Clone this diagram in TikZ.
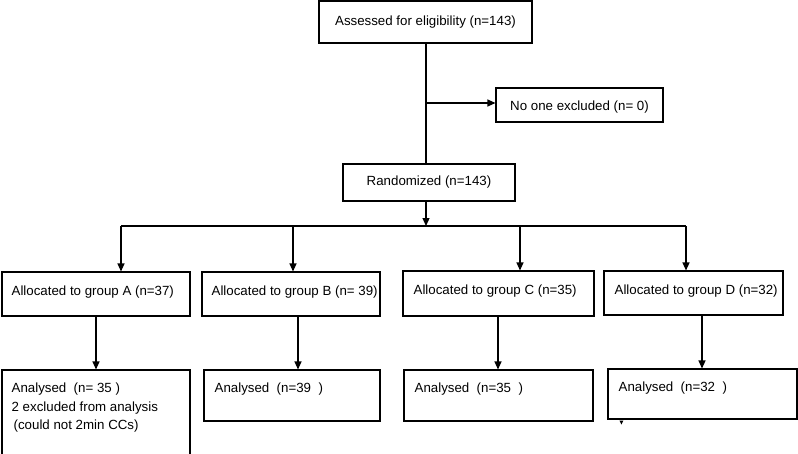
\documentclass[tikz,border=0pt]{standalone}
\usepackage{fontspec}
\setmainfont{Liberation Sans}
\usetikzlibrary{arrows.meta,calc}
\tikzset{
  box/.style={draw, line width=1.1pt, rectangle, inner sep=0pt},
  lbl/.style={inner sep=0pt, font=\fontsize{13.3}{18.8}\selectfont, align=left},
  arr/.style={line width=1.2pt, -{Triangle[length=8pt,width=7pt]}},
  ln/.style={line width=1.2pt}
}
\begin{document}
\begin{tikzpicture}[x=1pt,y=-1pt]
\useasboundingbox (0,0) rectangle (798,453);
% boxes
\node[box, minimum width=213pt, minimum height=42pt] (top) at (425.5,22) {};
\node[lbl] (topt) at (top.center) {Assessed for eligibility (n=143)};
\node[box, minimum width=167pt, minimum height=34pt] (excl) at (579.5,105) {};
\node[lbl] (exclt) at ($(excl.center)+(0,2)$) {No one excluded (n= 0)};
\node[box, minimum width=172pt, minimum height=37pt] (rand) at (429,182.5) {};
\node[lbl] (randt) at (rand.center) {Randomized (n=143)};

\node[box, minimum width=188pt, minimum height=44pt] (gA) at (96,294) {};
\node[box, minimum width=178pt, minimum height=44pt] (gB) at (291,294) {};
\node[box, minimum width=191pt, minimum height=45pt] (gC) at (498.5,293.5) {};
\node[box, minimum width=179pt, minimum height=44pt] (gD) at (693.5,293) {};
\node[lbl, anchor=west] (gAt) at ($(gA.west)+(10,-2)$) {Allocated to group A (n=37)};
\node[lbl, anchor=west] (gBt) at ($(gB.west)+(10,-2)$) {Allocated to group B (n= 39)};
\node[lbl, anchor=west] (gCt) at ($(gC.west)+(11,-2)$) {Allocated to group C (n=35)};
\node[lbl, anchor=west] (gDt) at ($(gD.west)+(11,-2)$) {Allocated to group D (n=32)};

\node[box, minimum width=188pt, minimum height=86pt] (aA) at (96,413) {};
\node[box, minimum width=176pt, minimum height=51pt] (aB) at (292,395.5) {};
\node[box, minimum width=189pt, minimum height=51pt] (aC) at (498.5,395.5) {};
\node[box, minimum width=189pt, minimum height=50pt] (aD) at (702.5,394) {};
\node[lbl, anchor=north west] (aAt) at ($(aA.north west)+(10,13)$) {Analysed\ \ (n= 35 )\\2 excluded from analysis\\\hspace{2pt}(could not 2min CCs)};
\node[lbl, anchor=north west] (aBt) at ($(aB.north west)+(11,13)$) {Analysed\ \ (n=39\ \ )};
\node[lbl, anchor=north west] (aCt) at ($(aC.north west)+(11,13)$) {Analysed\ \ (n=35\ \ )};
\node[lbl, anchor=north west] (aDt) at ($(aD.north west)+(11,13)$) {Analysed\ \ (n=32\ \ )};

% connectors
\coordinate (j1) at (426,103);
\coordinate (j2) at (426,226);
\coordinate (dA) at (121,226);
\coordinate (dB) at (293,226);
\coordinate (dC) at (520,226);
\coordinate (dD) at (686,226);
\coordinate (sB) at ([xshift=7pt]gB.south);
\coordinate (sC) at ([xshift=-0.5pt]gC.south);
\coordinate (sD) at ([xshift=8.5pt]gD.south);
\draw[ln] (top.south -| j1) -- (rand.north -| j1);
\draw[arr] (j1) -- (excl.west |- j1);
\draw[arr] (rand.south -| j1) -- (j2);
\draw[ln] (dA) -- (dD);
\draw[arr] (dA) -- (gA.north -| dA);
\draw[arr] (dB) -- (gB.north -| dB);
\draw[arr] (dC) -- (gC.north -| dC);
\draw[arr] (dD) -- (gD.north -| dD);
\draw[arr] (gA.south) -- (aA.north -| gA.south);
\draw[arr] (sB) -- (aB.north -| sB);
\draw[arr] (sC) -- (aC.north -| sC);
\draw[arr] (sD) -- (aD.north -| sD);
% stray mark below box D
\fill ($(aD.south west)+(12,1)$) -- ++(4,0) -- ++(-2,4) -- cycle;
\end{tikzpicture}
\end{document}
